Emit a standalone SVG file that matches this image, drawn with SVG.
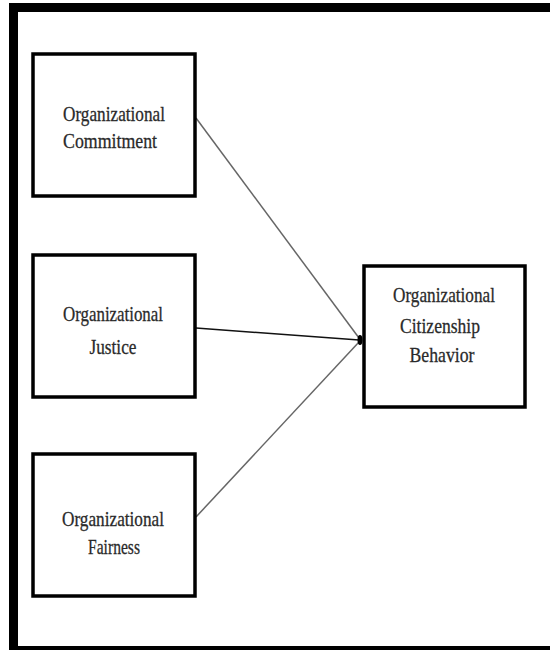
<svg xmlns="http://www.w3.org/2000/svg" width="550" height="650" viewBox="0 0 550 650">
<style>
.box{fill:#fff;stroke:#000;stroke-width:3.5}
.t{font-family:"Liberation Serif","Times New Roman",serif;font-size:22px;fill:#2a2a2a;stroke:#2a2a2a;stroke-width:0.3;text-anchor:middle}
.c{fill:none;stroke:#666;stroke-width:1.5}
</style>
<rect x="0" y="0" width="550" height="650" fill="#fff"/>
<g id="frame">
<rect x="9" y="3" width="541" height="9" fill="#000"/>
<rect x="9" y="3" width="9" height="647" fill="#000"/>
<rect x="9" y="646" width="541" height="4" fill="#000"/>
</g>
<g id="connectors">
<line class="c" x1="196" y1="118" x2="359" y2="338"/>
<line class="c" x1="196" y1="328" x2="359" y2="340" style="stroke:#111"/>
<line class="c" x1="196" y1="517" x2="359" y2="342"/>
<ellipse cx="360" cy="340" rx="2.5" ry="5" fill="#000"/>
</g>
<g id="commitment">
<rect class="box" x="33" y="54" width="162" height="142"/>
<text class="t" x="114" y="121" textLength="102" lengthAdjust="spacingAndGlyphs">Organizational</text>
<text class="t" x="110" y="148" textLength="94" lengthAdjust="spacingAndGlyphs">Commitment</text>
</g>
<g id="justice">
<rect class="box" x="33" y="255" width="162" height="142"/>
<text class="t" x="113" y="321" textLength="100" lengthAdjust="spacingAndGlyphs">Organizational</text>
<text class="t" x="113" y="354" textLength="47" lengthAdjust="spacingAndGlyphs">Justice</text>
</g>
<g id="fairness">
<rect class="box" x="33" y="454" width="162" height="142"/>
<text class="t" x="113" y="526" textLength="102" lengthAdjust="spacingAndGlyphs">Organizational</text>
<text class="t" x="114" y="554" textLength="52" lengthAdjust="spacingAndGlyphs">Fairness</text>
</g>
<g id="ocb">
<rect class="box" x="364" y="266" width="161" height="141"/>
<text class="t" x="444" y="302" textLength="102" lengthAdjust="spacingAndGlyphs">Organizational</text>
<text class="t" x="440" y="333" textLength="80" lengthAdjust="spacingAndGlyphs">Citizenship</text>
<text class="t" x="442" y="362" textLength="65" lengthAdjust="spacingAndGlyphs">Behavior</text>
</g>
</svg>
